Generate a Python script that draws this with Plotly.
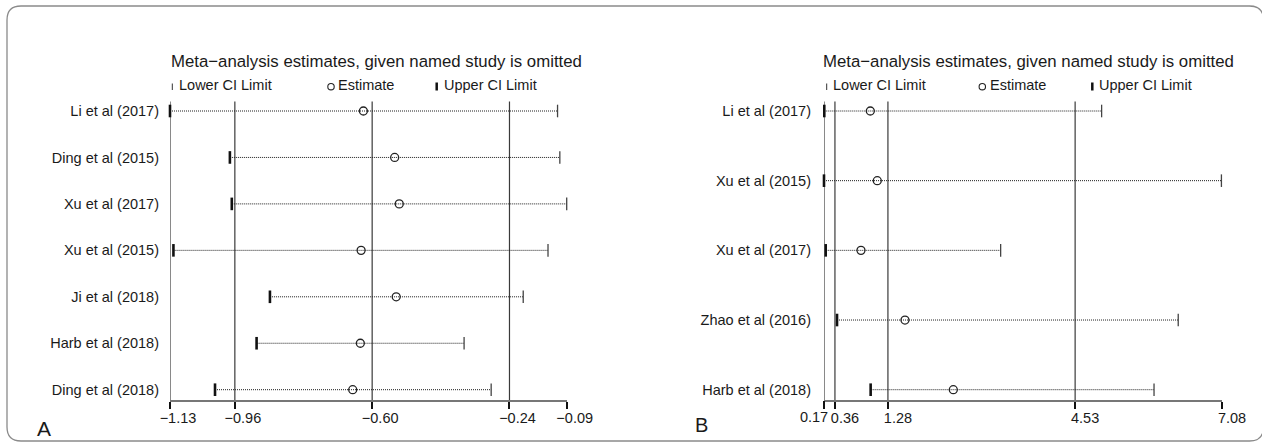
import plotly.graph_objects as go

W, H = 1262, 442
FONT = "Liberation Sans, Arial, Helvetica, sans-serif"
TXT = "#1a1a1a"

# ---------------- Panel A data ----------------
studies_a = ["Li et al (2017)", "Ding et al (2015)", "Xu et al (2017)", "Xu et al (2015)",
             "Ji et al (2018)", "Harb et al (2018)", "Ding et al (2018)"]
lower_a = [-1.13, -0.973, -0.968, -1.121, -0.868, -0.903, -1.012]
est_a = [-0.623, -0.541, -0.529, -0.629, -0.537, -0.631, -0.651]
upper_a = [-0.114, -0.108, -0.090, -0.139, -0.204, -0.359, -0.288]
ticks_a = [-1.13, -0.96, -0.60, -0.24, -0.09]
ticklabels_a = ["−1.13", "−0.96", "−0.60", "−0.24", "−0.09"]
reflines_a = [-1.13, -0.96, -0.60, -0.24]

# ---------------- Panel B data ----------------
studies_b = ["Li et al (2017)", "Xu et al (2015)", "Xu et al (2017)", "Zhao et al (2016)",
             "Harb et al (2018)"]
lower_b = [0.175, 0.17, 0.20, 0.396, 0.98]
est_b = [0.974, 1.095, 0.812, 1.576, 2.415]
upper_b = [4.99, 7.07, 3.237, 6.32, 5.90]
ticks_b = [0.17, 0.36, 1.28, 4.53, 7.08]
ticklabels_b = ["0.17", "0.36", "1.28", "4.53", "7.08"]
reflines_b = [0.17, 0.36, 1.28, 4.53]

title_text = "Meta−analysis estimates, given named study is omitted"


def pxx(x):
    return x / W


def pxy(y):
    return 1 - y / H


fig = go.Figure()


def add_panel(studies, lo, est, hi, xa, ya):
    n = len(studies)
    ys = list(range(n))
    xs, yy = [], []
    for i in range(n):
        xs += [lo[i], hi[i], None]
        yy += [i, i, None]
    fig.add_trace(go.Scatter(x=xs, y=yy, mode="lines", xaxis=xa, yaxis=ya,
                             line=dict(color="#1e1e1e", width=1, dash="1px,1px"),
                             hoverinfo="skip", showlegend=False, cliponaxis=False))
    fig.add_trace(go.Scatter(x=lo, y=ys, mode="markers", xaxis=xa, yaxis=ya,
                             marker=dict(symbol="line-ns", size=9, color="#111111",
                                         line=dict(width=2.6, color="#111111")),
                             showlegend=False, cliponaxis=False))
    fig.add_trace(go.Scatter(x=hi, y=ys, mode="markers", xaxis=xa, yaxis=ya,
                             marker=dict(symbol="line-ns", size=9, color="#444444",
                                         line=dict(width=1.3, color="#444444")),
                             showlegend=False, cliponaxis=False))
    fig.add_trace(go.Scatter(x=est, y=ys, mode="markers", xaxis=xa, yaxis=ya,
                             marker=dict(symbol="circle-open", size=8, color="#222222",
                                         line=dict(width=1.3, color="#222222")),
                             showlegend=False, cliponaxis=False))


add_panel(studies_a, lower_a, est_a, upper_a, "x", "y")
add_panel(studies_b, lower_b, est_b, upper_b, "x2", "y2")

# helper (invisible) trace so the overlaying axis x3 is drawn
fig.add_trace(go.Scatter(x=ticks_b[:1], y=[0], mode="markers", xaxis="x3", yaxis="y2",
                         marker=dict(opacity=0, size=1), hoverinfo="skip", showlegend=False))

shapes = []
for v in reflines_a:
    shapes.append(dict(type="line", xref="x", yref="y domain", x0=v, x1=v, y0=0, y1=1,
                       line=dict(color="#3a3a3a", width=1.2), layer="below"))
for v in reflines_b:
    shapes.append(dict(type="line", xref="x2", yref="y2 domain", x0=v, x1=v, y0=0, y1=1,
                       line=dict(color="#3a3a3a", width=1.2), layer="below"))

# rounded border
x0b, x1b, y0b, y1b, r = 7, 1263.5, 6, 441, 14
path = (f"M {pxx(x0b + r)},{pxy(y0b)} L {pxx(x1b - r)},{pxy(y0b)} "
        f"Q {pxx(x1b)},{pxy(y0b)} {pxx(x1b)},{pxy(y0b + r)} "
        f"L {pxx(x1b)},{pxy(y1b - r)} Q {pxx(x1b)},{pxy(y1b)} {pxx(x1b - r)},{pxy(y1b)} "
        f"L {pxx(x0b + r)},{pxy(y1b)} Q {pxx(x0b)},{pxy(y1b)} {pxx(x0b)},{pxy(y1b - r)} "
        f"L {pxx(x0b)},{pxy(y0b + r)} Q {pxx(x0b)},{pxy(y0b)} {pxx(x0b + r)},{pxy(y0b)} Z")
shapes.append(dict(type="path", xref="paper", yref="paper", path=path,
                   line=dict(color="#8a8a8a", width=1.3)))

annotations = []


def legend(xlow, xtxt_low, xcirc, xtxt_est, xup, xtxt_up):
    shapes.append(dict(type="line", xref="paper", yref="paper", x0=pxx(xlow), x1=pxx(xlow),
                       y0=pxy(83.5), y1=pxy(90), line=dict(color="#333333", width=1)))
    shapes.append(dict(type="circle", xref="paper", yref="paper",
                       x0=pxx(xcirc - 3.2), x1=pxx(xcirc + 3.2), y0=pxy(83.5), y1=pxy(89.9),
                       line=dict(color="#222222", width=1.1)))
    shapes.append(dict(type="line", xref="paper", yref="paper", x0=pxx(xup), x1=pxx(xup),
                       y0=pxy(82.5), y1=pxy(90.5), line=dict(color="#111111", width=2.5)))
    for xt, t in [(xtxt_low, "Lower CI Limit"), (xtxt_est, "Estimate"), (xtxt_up, "Upper CI Limit")]:
        annotations.append(dict(xref="paper", yref="paper", x=pxx(xt - 2), y=pxy(85.5),
                                xanchor="left", yanchor="middle", showarrow=False, text=t,
                                font=dict(size=14.5, color=TXT, family=FONT)))


legend(172.3, 179, 331, 338.3, 436.7, 444)
legend(826.7, 833.3, 982.3, 990, 1092.3, 1099)

for cx in [376.5, 1028.5]:
    annotations.append(dict(xref="paper", yref="paper", x=pxx(cx), y=pxy(61.5),
                            xanchor="center", yanchor="middle", showarrow=False, text=title_text,
                            font=dict(size=16.8, color=TXT, family=FONT)))

annotations.append(dict(xref="paper", yref="paper", x=pxx(44), y=pxy(428),
                        xanchor="center", yanchor="middle", showarrow=False, text="A",
                        font=dict(size=21, color=TXT, family=FONT)))
annotations.append(dict(xref="paper", yref="paper", x=pxx(701.5), y=pxy(424.5),
                        xanchor="center", yanchor="middle", showarrow=False, text="B",
                        font=dict(size=20, color=TXT, family=FONT)))

ydom = [pxy(400), pxy(101.5)]

xaxis_common = dict(ticks="outside", ticklen=7, tickwidth=2, tickcolor="#111111",
                    showgrid=False, zeroline=False,
                    tickfont=dict(size=14.5, color=TXT, family=FONT),
                    fixedrange=True, tickangle=0, automargin=False, ticklabelstandoff=-3)
yaxis_common = dict(showline=False, showgrid=False, zeroline=False, ticks="",
                    tickfont=dict(size=14.5, color=TXT, family=FONT), fixedrange=True,
                    automargin=False)

# Panel B: first tick label drawn by an overlaying axis so it can sit left of its tick
labels_b_main = [""] + ticklabels_b[1:]

fig.update_layout(
    width=W, height=H, autosize=False,
    margin=dict(l=0, r=0, t=0, b=0, pad=0),
    paper_bgcolor="white", plot_bgcolor="white",
    showlegend=False,
    xaxis=dict(domain=[pxx(170), pxx(566.7)], range=[ticks_a[0], ticks_a[-1]],
               tickvals=ticks_a, ticktext=ticklabels_a, anchor="y", ticklabelshift=8,
               showline=True, linecolor="#777777", linewidth=2, **xaxis_common),
    yaxis=dict(domain=ydom, range=[6.2217, -0.2045], tickvals=list(range(len(studies_a))),
               ticktext=studies_a, anchor="x", ticklabelstandoff=10, **yaxis_common),
    xaxis2=dict(domain=[pxx(824), pxx(1222)], range=[ticks_b[0], ticks_b[-1]],
                tickvals=ticks_b, ticktext=labels_b_main, anchor="y2", ticklabelshift=10,
                showline=True, linecolor="#777777", linewidth=2, **xaxis_common),
    xaxis3=dict(overlaying="x2", domain=[pxx(824), pxx(1222)], range=[ticks_b[0], ticks_b[-1]],
                anchor="y2", tickvals=ticks_b[:1], ticktext=ticklabels_b[:1],
                ticklabelshift=-10, showline=False, side="bottom", **xaxis_common),
    yaxis2=dict(domain=ydom, range=[4.1478, -0.1363], tickvals=list(range(len(studies_b))),
                ticktext=studies_b, anchor="x2", ticklabelstandoff=12, **yaxis_common),
    shapes=shapes,
    annotations=annotations,
)

fig.write_html("out.html", config={"responsive": False, "displayModeBar": False},
               post_script="document.body.style.margin='0';document.body.style.overflow='hidden';")
